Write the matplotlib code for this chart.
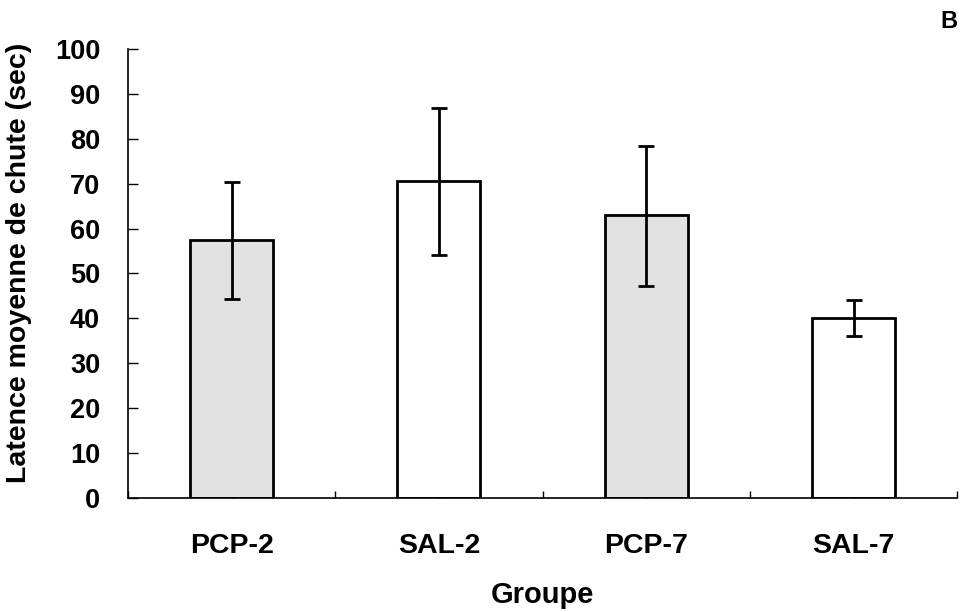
import numpy as np
import matplotlib.pyplot as plt
from matplotlib.ticker import FixedLocator

groups = ["PCP-2", "SAL-2", "PCP-7", "SAL-7"]
latence = [57.5, 70.6, 63.0, 40.0]
err_bas = [13.2, 16.4, 15.7, 4.0]
err_haut = [12.8, 16.2, 15.4, 4.0]
couleurs = ["#e2e2e2", "white", "#e2e2e2", "white"]

plt.rcParams['font.family'] = ['Liberation Sans', 'DejaVu Sans']
plt.rcParams['font.weight'] = 'bold'

fig = plt.figure(figsize=(9.62, 6.12), dpi=100)
ax = fig.add_axes([0.133, 0.1863, 0.862, 0.7337])

x = np.arange(len(groups))
ax.bar(x, latence, width=0.4, color=couleurs, edgecolor='black', linewidth=2, zorder=2)
ax.errorbar(x, latence, yerr=[err_bas, err_haut], fmt='none', ecolor='black',
            elinewidth=2, capsize=5.5, capthick=2, zorder=3)

ax.set_xlim(-0.5, 3.5)
ax.set_ylim(0, 100)
ax.set_yticks(np.arange(0, 101, 10))
ax.set_xticks(x)
ax.set_xticklabels(groups)
ax.xaxis.set_minor_locator(FixedLocator(np.arange(-0.5, 4, 1)))

ax.spines['top'].set_visible(False)
ax.spines['right'].set_visible(False)
ax.spines['left'].set_linewidth(1.2)
ax.spines['bottom'].set_linewidth(1.2)

ax.tick_params(axis='y', direction='in', length=7, width=1, labelsize=19.5, pad=20)
ax.tick_params(axis='x', which='major', direction='in', length=3, width=1, labelsize=20.5, pad=25)
ax.tick_params(axis='x', which='minor', direction='in', length=5, width=1)

ax.set_ylabel("Latence moyenne de chute (sec)", fontsize=20.5, fontweight='bold')
ax.yaxis.set_label_coords(-0.116, 0.524)
ax.set_xlabel("Groupe", fontsize=21, fontweight='bold', labelpad=16)

fig.text(0.995, 0.965, "B", fontsize=17, fontweight='bold', ha='right', va='center')

fig.savefig("out.png", dpi=100)
